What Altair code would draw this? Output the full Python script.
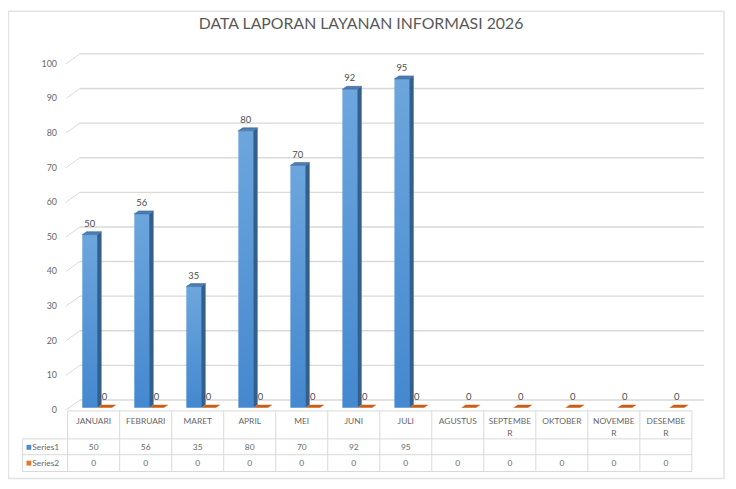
import altair as alt
import pandas as pd

# ---------------- data ----------------
months = ["JANUARI", "FEBRUARI", "MARET", "APRIL", "MEI", "JUNI", "JULI",
          "AGUSTUS", "SEPTEMBER", "OKTOBER", "NOVEMBER", "DESEMBER"]
month_labels = ["JANUARI", "FEBRUARI", "MARET", "APRIL", "MEI", "JUNI", "JULI",
                "AGUSTUS", "SEPTEMBE\nR", "OKTOBER", "NOVEMBE\nR", "DESEMBE\nR"]
series1 = [50, 56, 35, 80, 70, 92, 95, None, None, None, None, None]
series2 = [0, 0, 0, 0, 0, 0, 0, 0, 0, 0, 0, 0]
y_ticks = [0, 10, 20, 30, 40, 50, 60, 70, 80, 90, 100]
title_text = "DATA LAPORAN LAYANAN INFORMASI 2026"
series_names = ["Series1", "Series2"]

# ---------------- layout (pixels of the picture) ----------------
FONT = "Lato"
BAND = 52.6          # width of one category column
X0 = 68.3            # left edge of first category
Y0 = 409.5           # baseline of the bars
PPU = 3.5            # pixels per value unit
W, H = 728, 481


def U(px):
    return (px - X0) / BAND


def V(py):
    return (Y0 - py) / PPU


def du(px):
    return px / BAND


def dv(px):
    return px / PPU


xs = alt.Scale(domain=[U(8), U(8 + W)], nice=False, zero=False)
ys = alt.Scale(domain=[V(8 + H), V(8)], nice=False, zero=False)


def X(f="x"):
    return alt.X(f"{f}:Q", scale=xs, axis=None, stack=None)


def Y(f="y"):
    return alt.Y(f"{f}:Q", scale=ys, axis=None, stack=None)


GRID = "#d9d9d9"
TXT = "#676767"

# ---------------- frame ----------------
frame = alt.Chart(pd.DataFrame([{"x": U(8.5), "x2": U(732), "y": V(8.5), "y2": V(481)}])).mark_rect(
    fill=None, stroke="#e3e3e3", strokeWidth=1.5
).encode(x=X(), x2="x2:Q", y=Y(), y2="y2:Q")

title = alt.Chart(pd.DataFrame([{"x": U(365), "y": V(22), "t": title_text}])).mark_text(
    font=FONT, fontSize=16, color="#595959", baseline="middle", align="center"
).encode(x=X(), y=Y(), text="t:N")

# ---------------- walls / grid ----------------
back_rows, slant_rows = [], []
for t in y_ticks:
    back_rows.append({"x": U(80.7), "x2": U(711.7), "y": t + dv(7.8)})
    slant_rows.append({"x": U(66.7), "x2": U(80.7), "y": t - dv(2.2), "y2": t + dv(7.8)})
back_grid = alt.Chart(pd.DataFrame(back_rows)).mark_rule(color=GRID, strokeWidth=1.4).encode(
    x=X(), x2="x2:Q", y=Y())
slant_grid = alt.Chart(pd.DataFrame(slant_rows)).mark_rule(color=GRID, strokeWidth=1).encode(
    x=X(), x2="x2:Q", y=Y(), y2="y2:Q")

ylab = alt.Chart(pd.DataFrame({"y": [t - dv(2.2) for t in y_ticks], "t": [str(t) for t in y_ticks]})).mark_text(
    font=FONT, fontSize=9, color=TXT, align="right", baseline="middle"
).encode(x=alt.value(57.5 - 8 - 0), y=Y(), text="t:N")

# ---------------- bars ----------------
front_rows, side_rows, top_rows, plate_rows, lab1_rows, lab2_rows = [], [], [], [], [], []
for i, m in enumerate(months):
    c = i + 0.5
    v = series1[i]
    if v is not None:
        front_rows.append({"m": m, "x": c - du(11.5), "x2": c + du(3.5), "y": 0, "y2": v})
        side_rows += [
            {"m": m, "x": c + du(3.5), "y": 0, "y2": v},
            {"m": m, "x": c + du(8.0), "y": dv(3), "y2": v + dv(3)},
        ]
        top_rows += [
            {"m": m, "y": v, "x": c - du(11.5), "x2": c + du(3.5)},
            {"m": m, "y": v + dv(3), "x": c - du(7.0), "x2": c + du(8.0)},
        ]
        lab1_rows.append({"x": c - du(4), "y": v + dv(11), "t": str(v)})
    s2 = series2[i]
    plate_rows += [
        {"m": m, "y": s2, "x": c + du(3.5), "x2": c + du(18.5)},
        {"m": m, "y": s2 + dv(3), "x": c + du(8.0), "x2": c + du(23.0)},
    ]
    lab2_rows.append({"x": c + du(11), "y": s2 + dv(11), "t": str(s2)})

front = alt.Chart(pd.DataFrame(front_rows)).mark_rect(
    color=alt.Gradient(gradient="linear", x1=0, y1=0, x2=0, y2=1,
                       stops=[alt.GradientStop(color="#6DA6DD", offset=0),
                              alt.GradientStop(color="#4488CF", offset=1)])
).encode(x=X(), x2="x2:Q", y=Y(), y2="y2:Q")

side = alt.Chart(pd.DataFrame(side_rows)).mark_area(
    color="#335F8C", orient="vertical", opacity=1
).encode(x=X(), y=Y(), y2="y2:Q", detail="m:N")

top = alt.Chart(pd.DataFrame(top_rows)).mark_area(
    color="#4A7DB3", orient="horizontal", opacity=1, stroke="#3C6A9B", strokeWidth=0.6
).encode(y=Y(), x=X(), x2="x2:Q", detail="m:N")

plate = alt.Chart(pd.DataFrame(plate_rows)).mark_area(
    color="#C95E17", orient="horizontal", opacity=1
).encode(y=Y(), x=X(), x2="x2:Q", detail="m:N")

lab1 = alt.Chart(pd.DataFrame(lab1_rows)).mark_text(
    font=FONT, fontSize=9.5, color="#4d4d4d", baseline="middle", align="center"
).encode(x=X(), y=Y(), text="t:N")

lab2 = alt.Chart(pd.DataFrame(lab2_rows)).mark_text(
    font=FONT, fontSize=9.5, color="#4d4d4d", baseline="middle", align="center"
).encode(x=X(), y=Y(), text="t:N")

# ---------------- data table ----------------
T_TOP, T_R1, T_R2, T_BOT = 412.7, 441.0, 457.0, 474.0
T_LEFT = 22.7
n = len(months)
h_rows = [
    {"x": U(X0), "x2": n, "y": V(T_TOP)},
    {"x": U(T_LEFT), "x2": n, "y": V(T_R1)},
    {"x": U(T_LEFT), "x2": n, "y": V(T_R2)},
    {"x": U(T_LEFT), "x2": n, "y": V(T_BOT)},
]
v_rows = [{"x": k, "y": V(T_TOP), "y2": V(T_BOT)} for k in range(n + 1)]
v_rows.append({"x": U(T_LEFT), "y": V(T_R1), "y2": V(T_BOT)})
hlines = alt.Chart(pd.DataFrame(h_rows)).mark_rule(color=GRID, strokeWidth=1).encode(
    x=X(), x2="x2:Q", y=Y())
vlines = alt.Chart(pd.DataFrame(v_rows)).mark_rule(color=GRID, strokeWidth=1).encode(
    x=X(), y=Y(), y2="y2:Q")

head = alt.Chart(pd.DataFrame({"x": [i + 0.5 for i in range(n)], "y": [V(426)] * n, "t": month_labels})).mark_text(
    font=FONT, fontSize=8.5, color=TXT, align="center", baseline="alphabetic", lineBreak="\n", lineHeight=12.3
).encode(x=X(), y=Y(), text="t:N")

cell_rows = []
for i in range(n):
    if series1[i] is not None:
        cell_rows.append({"x": i + 0.5, "y": V(449.3), "t": str(series1[i])})
    if series2[i] is not None:
        cell_rows.append({"x": i + 0.5, "y": V(465.5), "t": str(series2[i])})
cells = alt.Chart(pd.DataFrame(cell_rows)).mark_text(
    font=FONT, fontSize=8.5, color=TXT, align="center", baseline="middle"
).encode(x=X(), y=Y(), text="t:N")

key_rows = [
    {"x": U(26.7), "x2": U(31.5), "y": V(447), "y2": V(452), "s": series_names[0]},
    {"x": U(26.7), "x2": U(31.5), "y": V(463), "y2": V(468), "s": series_names[1]},
]
keys = alt.Chart(pd.DataFrame(key_rows)).mark_rect().encode(
    x=X(), x2="x2:Q", y=Y(), y2="y2:Q",
    color=alt.Color("s:N", scale=alt.Scale(domain=series_names, range=["#4A8AD0", "#E8772E"]), legend=None))
key_text = alt.Chart(pd.DataFrame([
    {"x": U(32.5), "y": V(449.3), "t": series_names[0]},
    {"x": U(32.5), "y": V(465.5), "t": series_names[1]},
])).mark_text(font=FONT, fontSize=8.5, color=TXT, align="left", baseline="middle").encode(
    x=X(), y=Y(), text="t:N")

chart = alt.layer(
    frame, title, back_grid, slant_grid, ylab,
    plate, front, side, top, lab1, lab2,
    hlines, vlines, head, cells, keys, key_text
).properties(
    width=W, height=H, padding=0, autosize=alt.AutoSizeParams(type="none")
).configure_view(stroke=None)

chart.save("out.html", embed_options={"renderer": "svg", "actions": False})
